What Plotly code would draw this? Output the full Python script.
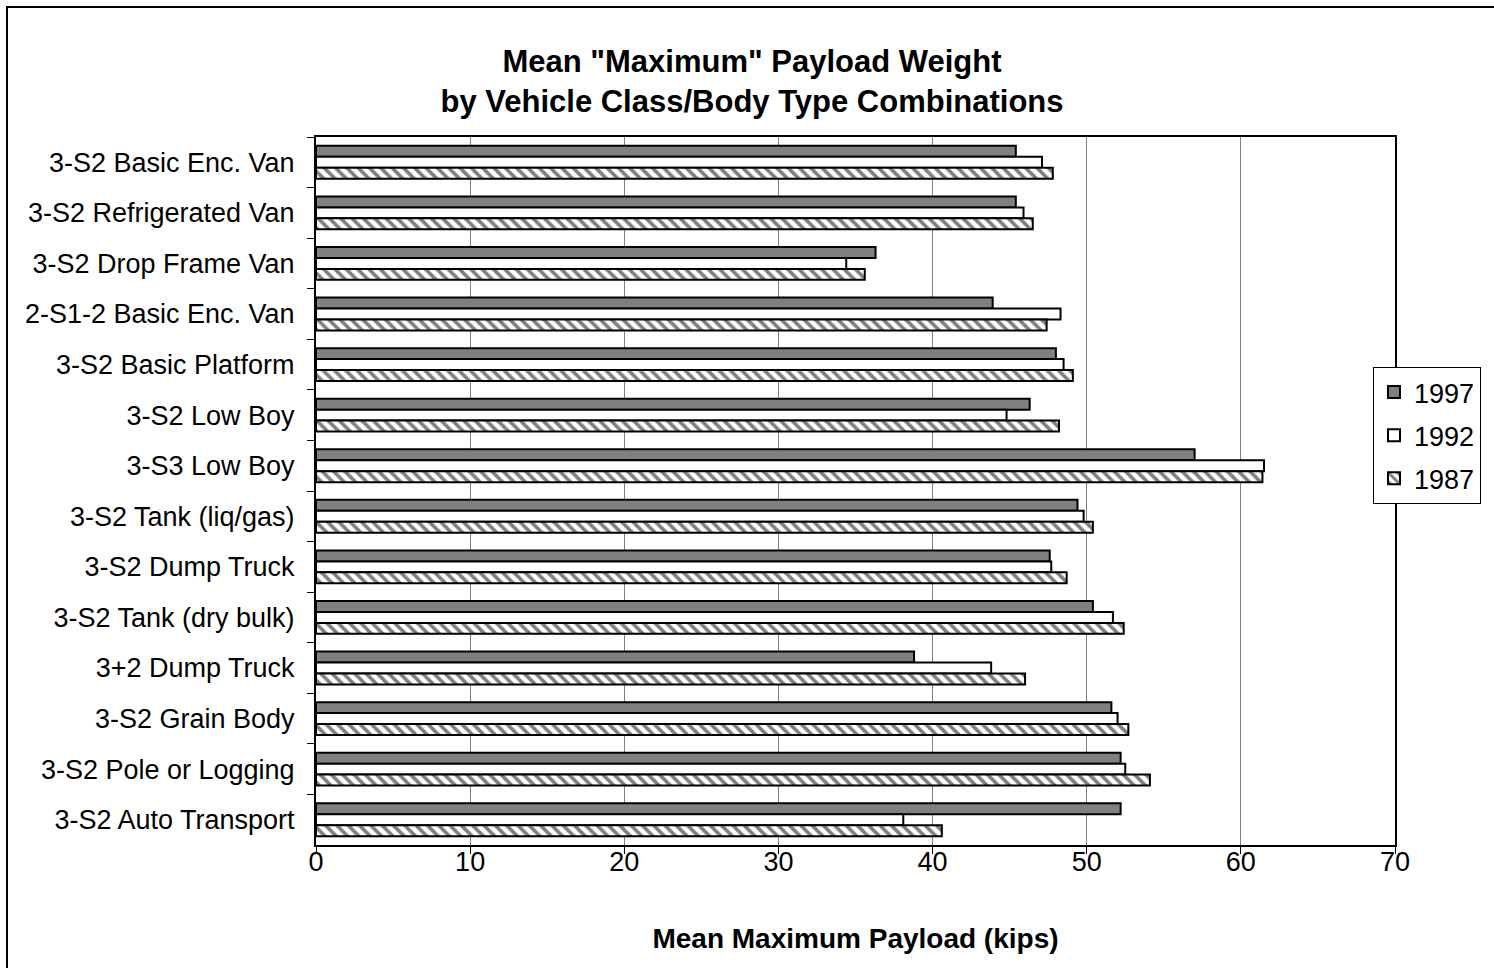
import plotly.graph_objects as go

# Vehicle class / body type combinations, top to bottom
categories = [
    "3-S2 Basic Enc. Van",
    "3-S2 Refrigerated Van",
    "3-S2 Drop Frame Van",
    "2-S1-2 Basic Enc. Van",
    "3-S2 Basic Platform",
    "3-S2 Low Boy",
    "3-S3 Low Boy",
    "3-S2 Tank (liq/gas)",
    "3-S2 Dump Truck",
    "3-S2 Tank (dry bulk)",
    "3+2 Dump Truck",
    "3-S2 Grain Body",
    "3-S2 Pole or Logging",
    "3-S2 Auto Transport",
]

# Mean maximum payload (kips) by survey year
payload_1997 = [45.4, 45.4, 36.3, 43.9, 48.0, 46.3, 57.0, 49.4, 47.6, 50.4, 38.8, 51.6, 52.2, 52.2]
payload_1992 = [47.1, 45.9, 34.4, 48.3, 48.5, 44.8, 61.5, 49.8, 47.7, 51.7, 43.8, 52.0, 52.5, 38.1]
payload_1987 = [47.8, 46.5, 35.6, 47.4, 49.1, 48.2, 61.4, 50.4, 48.7, 52.4, 46.0, 52.7, 54.1, 40.6]

x_ticks = [0, 10, 20, 30, 40, 50, 60, 70]

FONT = "Liberation Sans, Arial, sans-serif"
edge = dict(color="black", width=2)

fig = go.Figure()
fig.add_trace(go.Bar(
    y=categories, x=payload_1997, name="1997", orientation="h",
    marker=dict(color="#808080", line=edge), legendgroup="a",
))
fig.add_trace(go.Bar(
    y=categories, x=payload_1992, name="1992", orientation="h",
    marker=dict(color="white", line=edge), legendgroup="b",
))
fig.add_trace(go.Bar(
    y=categories, x=payload_1987, name="1987", orientation="h",
    marker=dict(color="white", line=edge,
                pattern=dict(shape="\\", fgcolor="black", bgcolor="white",
                             size=8, solidity=0.45)),
    legendgroup="c",
))

W, H = 1494, 968
L, R, T, B = 316, 99, 137, 123
pw, ph = W - L - R, H - T - B

fig.update_layout(
    width=W, height=H,
    margin=dict(l=L, r=R, t=T, b=B, autoexpand=False),
    paper_bgcolor="white", plot_bgcolor="white",
    barmode="group", bargap=0.35, bargroupgap=0,
    font=dict(family=FONT, color="black", size=27),
    title=dict(
        text='Mean "Maximum" Payload Weight<br>by Vehicle Class/Body Type Combinations',
        x=752 / W, xanchor="center",
        y=1 - 72 / H, yanchor="middle",
        font=dict(family=FONT, size=31, color="black", weight="bold"),
    ),
    legend=dict(
        x=(1373 - L) / pw, xanchor="left",
        y=(H - B - 367) / ph, yanchor="top",
        bordercolor="black", borderwidth=1, bgcolor="white",
        font=dict(family=FONT, size=27, color="black"),
        tracegroupgap=5, traceorder="grouped",
        itemwidth=30,
    ),
    showlegend=True,
)

fig.update_xaxes(
    range=[0, 70], tickvals=x_ticks, ticktext=[str(v) for v in x_ticks],
    showgrid=True, gridcolor="#808080", gridwidth=1,
    ticks="outside", ticklen=7, tickcolor="black", tickwidth=1,
    showline=True, linecolor="black", linewidth=2, mirror=True,
    zeroline=False,
    ticklabelstandoff=-15,
    tickfont=dict(family=FONT, size=27),
    title=dict(text="Mean Maximum Payload (kips)", standoff=52,
               font=dict(family=FONT, size=28, weight="bold")),
)
fig.update_yaxes(
    autorange="reversed", type="category",
    ticks="outside", ticklen=7, tickcolor="black", tickwidth=1,
    tickson="boundaries",
    showline=True, linecolor="black", linewidth=2, mirror=True,
    showgrid=False,
    ticklabelstandoff=14,
    tickfont=dict(family=FONT, size=27),
)

# Outer chart frame
fig.add_shape(
    type="rect", xref="paper", yref="paper",
    x0=(7 - L) / pw, x1=(W + 20 - L) / pw,
    y0=(H - B - (H + 20)) / ph, y1=(H - B - 7) / ph,
    line=dict(color="black", width=2), fillcolor="rgba(0,0,0,0)",
    layer="below",
)

fig.write_html("out.html")
